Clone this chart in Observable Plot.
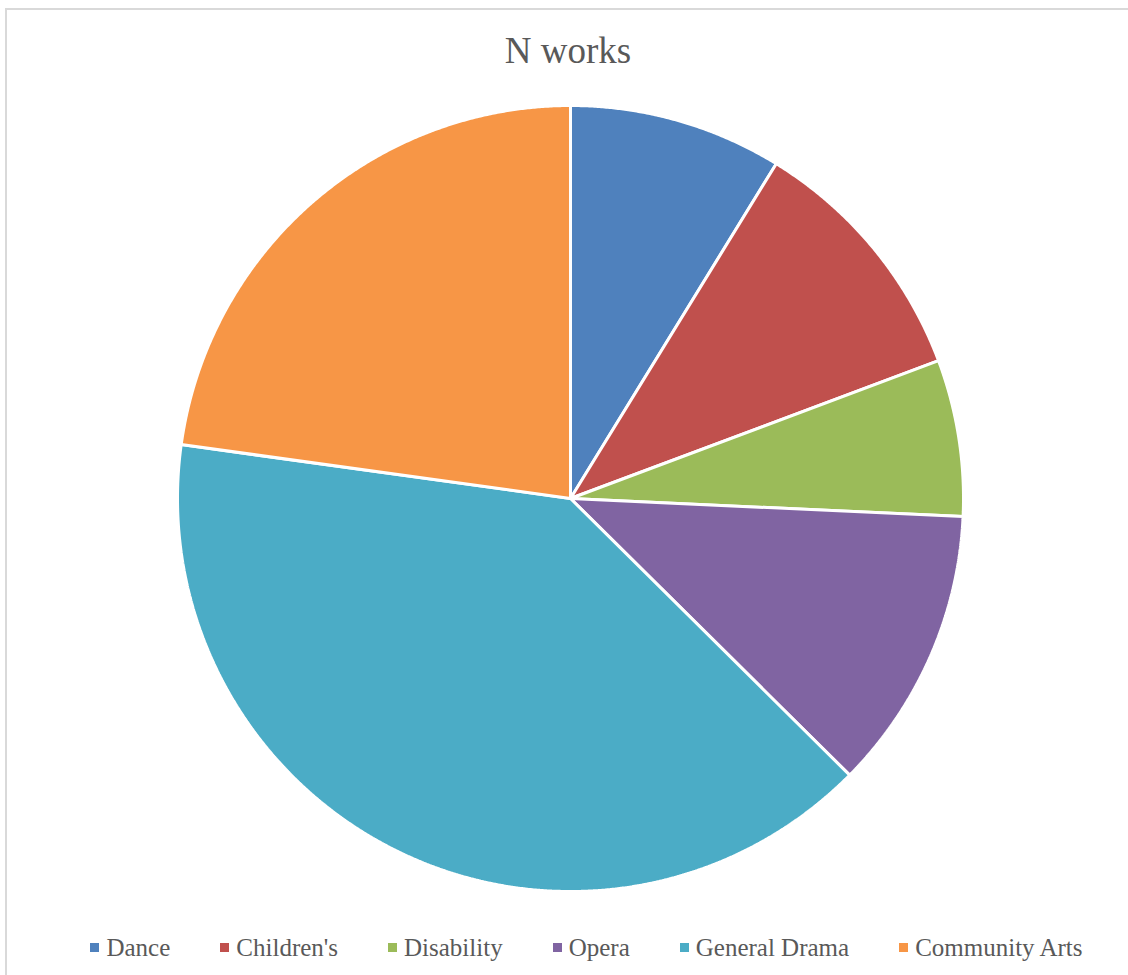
<!DOCTYPE html>
<html>
<head>
<meta charset="utf-8">
<script src="https://cdn.jsdelivr.net/npm/d3@7"></script>
<script src="https://cdn.jsdelivr.net/npm/@observablehq/plot@0.6"></script>
<style>
  html, body { margin: 0; padding: 0; background: #fff; }
  #wrap { position: relative; width: 1128px; height: 975px; overflow: hidden; background: #fff; }
  #frame { position: absolute; left: 5px; top: 8px; width: 1300px; height: 1200px;
           border-left: 2px solid #d9d9d9; border-top: 2px solid #d9d9d9; box-sizing: border-box; }
  #title { position: absolute; left: 0; top: 32px; width: 1136px; text-align: center;
           font-family: "Liberation Serif", serif; font-size: 37px; line-height: 1; color: #595959; }
  #chart { position: absolute; left: 0; top: 95px; }
  #legend { position: absolute; left: 0; top: 935px; width: 1173px; display: flex; justify-content: center;
            gap: 50px; font-family: "Liberation Serif", serif; font-size: 25px; line-height: 1; color: #595959; white-space: nowrap; }
  .sw { display: inline-block; width: 9px; height: 9px; margin-right: 7px; margin-bottom: 4px; vertical-align: baseline; }
</style>
</head>
<body>
<div id="wrap">
  <div id="frame"></div>
  <div id="title"></div>
  <div id="chart"></div>
  <div id="legend"></div>
</div>
<script>
const chartTitle = "N works";
const categories = ["Dance", "Children's", "Disability", "Opera", "General Drama", "Community Arts"];
const counts = [15, 18, 11, 20, 68, 39];
const colors = ["#4F81BD", "#C0504D", "#9BBB59", "#8064A2", "#4BACC6", "#F79646"];

document.getElementById("title").textContent = chartTitle;

// Build slice polygons from the pie layout (derived from counts)
const arcs = d3.pie().sort(null).value(d => d)(counts);
const poly = [];
arcs.forEach((a, i) => {
  const name = categories[i];
  poly.push({name, x: 0, y: 0});
  const n = Math.max(2, Math.ceil((a.endAngle - a.startAngle) / (Math.PI / 720)));
  for (let k = 0; k <= n; k++) {
    const t = a.startAngle + (a.endAngle - a.startAngle) * k / n;
    poly.push({name, x: Math.sin(t), y: Math.cos(t)});
  }
  poly.push({name, x: 0, y: 0});
});

const cx = 570, cyAbs = 498, R = 393, svgTop = 95;
const cy = cyAbs - svgTop;

const plot = Plot.plot({
  width: 1128,
  height: 810,
  margin: 0,
  x: {domain: [-1, 1], range: [cx - R, cx + R], axis: null},
  y: {domain: [-1, 1], range: [cy + R, cy - R], axis: null},
  color: {domain: categories, range: colors},
  marks: [
    Plot.line(poly, {x: "x", y: "y", z: "name", fill: "name", stroke: "white", strokeWidth: 3, strokeLinejoin: "miter", curve: "linear"})
  ]
});
document.getElementById("chart").appendChild(plot);

const legend = document.getElementById("legend");
categories.forEach((c, i) => {
  const item = document.createElement("span");
  const sw = document.createElement("span");
  sw.className = "sw";
  sw.style.background = colors[i];
  item.appendChild(sw);
  item.appendChild(document.createTextNode(c));
  legend.appendChild(item);
});
</script>
</body>
</html>
